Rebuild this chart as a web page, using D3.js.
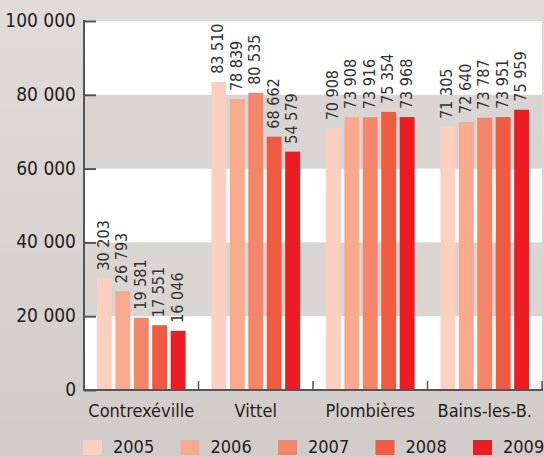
<!DOCTYPE html>
<html><head><meta charset="utf-8">
<script src="https://cdn.jsdelivr.net/npm/d3@7"></script>
<style>body{margin:0;padding:0;}svg{display:block;}</style>
</head><body>
<script>
const categories = ["Contrexéville","Vittel","Plombières","Bains-les-B."];
const years = ["2005","2006","2007","2008","2009"];
// bar heights as drawn in the picture
const values = {
  "2005":[30203,83510,70908,71305],
  "2006":[26793,78839,73908,72640],
  "2007":[19581,80535,73916,73787],
  "2008":[17551,68662,75354,73951],
  "2009":[16046,64600,73968,75959]
};
// printed labels (as shown in the picture)
const labels = {
  "2005":["30 203","83 510","70 908","71 305"],
  "2006":["26 793","78 839","73 908","72 640"],
  "2007":["19 581","80 535","73 916","73 787"],
  "2008":["17 551","68 662","75 354","73 951"],
  "2009":["16 046","54 579","73 968","75 959"]
};
const yTicks = [0,20000,40000,60000,80000,100000];
const colors = ["#fcd0c0","#f9a98d","#f58568","#f05a40","#ed1c24"];

const W=544,H=457;
const font = "'DejaVu Sans Condensed','Liberation Sans Narrow',sans-serif";
const svg=d3.select("body").append("svg").attr("width",W).attr("height",H);
const defs=svg.append("defs");
const g0=defs.append("linearGradient").attr("id","bg").attr("x1",0).attr("y1",0).attr("x2",0).attr("y2",1);
g0.append("stop").attr("offset","0%").attr("stop-color","#e0dcd9");
g0.append("stop").attr("offset","100%").attr("stop-color","#d0ccc9");
svg.append("rect").attr("width",W).attr("height",H).attr("fill","url(#bg)");

const L=84,R=542,T=21,B=390;
const x=d3.scaleBand().domain(categories).range([L,R]).paddingInner(0).paddingOuter(0);
const xi=d3.scaleBand().domain(years).range([0,x.bandwidth()]).paddingInner(0.19).paddingOuter(0.7);
const y=d3.scaleLinear().domain([0,100000]).range([B,T]);

svg.append("rect").attr("x",L).attr("y",T).attr("width",R-L).attr("height",B-T).attr("fill","#fff");
[[20000,40000],[60000,80000]].forEach(b=>{
  svg.append("rect").attr("x",L).attr("y",y(b[1])).attr("width",R-L).attr("height",y(b[0])-y(b[1])).attr("fill","#d9d5d2");
});

categories.forEach((c,ci)=>{
  years.forEach((yr,yi)=>{
    const v=values[yr][ci];
    const bx=x(c)+xi(yr);
    svg.append("rect").attr("x",bx).attr("y",y(v)).attr("width",xi.bandwidth()).attr("height",B-y(v)).attr("fill",colors[yi]);
    svg.append("text").attr("transform",`translate(${bx+xi.bandwidth()/2+4.5},${y(v)-8}) rotate(-90)`)
      .attr("font-family",font).attr("font-size",16).attr("fill","#333").text(labels[yr][ci]);
  });
});

// y axis
const ya=svg.append("g").attr("transform",`translate(${L},0)`)
  .call(d3.axisRight(y).tickValues(yTicks).tickSize(12).tickFormat(""));
ya.select(".domain").remove();
ya.selectAll("line").attr("stroke","#555").attr("stroke-width",2);
svg.selectAll(".ylab").data(yTicks).enter().append("text")
  .attr("x",76).attr("y",d=>y(d)+6).attr("text-anchor","end")
  .attr("font-family",font).attr("font-size",19).attr("fill","#231f20")
  .text(d=>d3.format(",")(d).replace(/,/g," "));
svg.append("line").attr("x1",L).attr("x2",L).attr("y1",T-1).attr("y2",B+1).attr("stroke","#555").attr("stroke-width",2);

// x axis
svg.append("line").attr("x1",L).attr("x2",R+1).attr("y1",B).attr("y2",B).attr("stroke","#555").attr("stroke-width",2);
categories.forEach(c=>{
  const xe=x(c)+x.bandwidth();
  svg.append("line").attr("x1",xe).attr("x2",xe).attr("y1",B).attr("y2",B-9).attr("stroke","#555").attr("stroke-width",1.5);
  svg.append("text").attr("x",x(c)+x.bandwidth()/2).attr("y",417).attr("text-anchor","middle")
    .attr("font-family",font).attr("font-size",18).attr("fill","#231f20").text(c);
});

// legend
years.forEach((yr,i)=>{
  const lx=83+i*97.5;
  svg.append("rect").attr("x",lx).attr("y",440).attr("width",19).attr("height",15).attr("fill",colors[i]);
  svg.append("text").attr("x",lx+30).attr("y",453).attr("font-family",font).attr("font-size",18).attr("fill","#231f20").text(yr);
});
</script>
</body></html>
